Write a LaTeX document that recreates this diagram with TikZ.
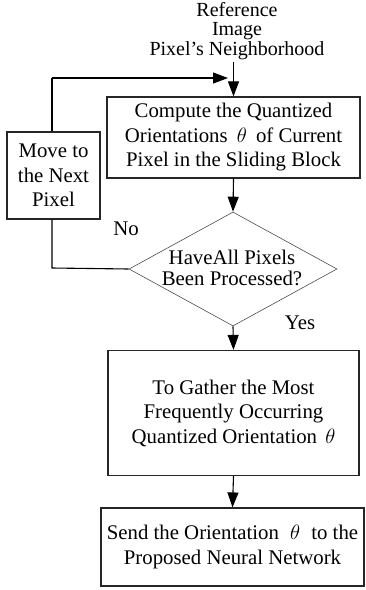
\documentclass[tikz,border=0pt]{standalone}
\usepackage{fontspec}
\setmainfont{Liberation Serif}
\usetikzlibrary{arrows.meta,shapes.geometric}
\begin{document}
\begin{tikzpicture}[x=1pt,y=-1pt,
  box/.style={draw=black!85,line width=1.2pt,inner sep=0pt,align=center,
    font=\fontsize{20.8}{24.5}\selectfont},
  lbl/.style={inner sep=0pt,font=\fontsize{20.8}{24.5}\selectfont},
  arr/.style={line width=1.1pt,-{Triangle[length=15pt,width=11pt]}},
  ln/.style={line width=1.1pt}]
\useasboundingbox (0,0) rectangle (365,590);
\node[inner sep=0pt,align=center,font=\fontsize{20}{19.5}\selectfont] (src) at (237,31)
  {Reference\\Image\\Pixel's Neighborhood};
\node[box,minimum width=253pt,minimum height=81pt] (b1) at (233.5,137.5)
  {Compute the Quantized\\Orientations\hspace{4pt} $\theta$\hspace{4pt} of Current\\Pixel in the Sliding Block};
\node[box,minimum width=93pt,minimum height=87pt] (mv) at (53.5,175.5)
  {Move to\\the Next\\Pixel};
\node[diamond,draw=black!70,line width=0.6pt,minimum width=208pt,minimum height=114pt,inner sep=0pt] (d) at (233,269) {};
\node[inner sep=0pt,align=center,font=\fontsize{20.8}{21.5}\selectfont] (dt) at (232,268)
  {HaveAll Pixels\\Been Processed?};
\node[box,minimum width=251pt,minimum height=125pt] (b3) at (233.5,413)
  {To Gather the Most\\Frequently Occurring\\Quantized Orientation\hspace{3pt} $\theta$};
\node[box,minimum width=263pt,minimum height=78pt] (b4) at (232.5,547)
  {Send the Orientation\hspace{6pt} $\theta$\hspace{6pt} to the\\Proposed Neural Network};
\node[lbl] (no) at (126,229) {No};
\node[lbl] (yes) at (300,323) {Yes};
\coordinate (top) at (233.5,62);
\coordinate (corner1) at (52,78);
\coordinate (hit) at (228,78);
\coordinate (corner2) at (52,268);
\draw[arr] (top) -- (b1.north);
\draw[ln] (mv.north -| corner1) -- (corner1);
\draw[arr] (corner1) -- (hit);
\draw[arr] (b1.south) -- (d.north);
\draw[ln] (d.west) -- (corner2) -- (mv.south -| corner2);
\draw[arr] (d.south) -- (b3.north);
\draw[arr] (b3.south) -- (b4.north);
\end{tikzpicture}
\end{document}
